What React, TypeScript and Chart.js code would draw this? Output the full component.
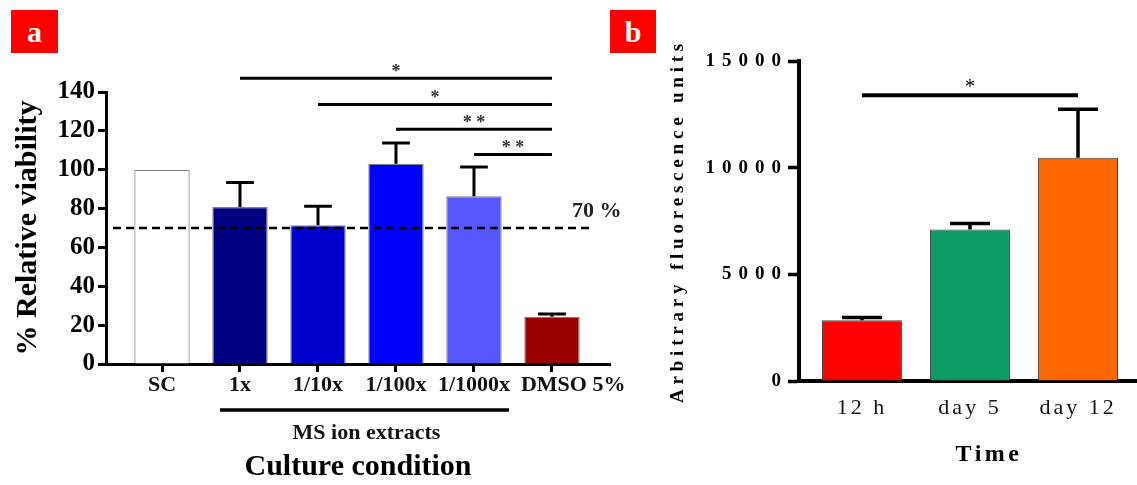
import React, { useEffect, useRef } from 'react';
import { Chart, registerables } from 'chart.js';

Chart.register(...registerables);

const FONT = '"Liberation Serif", "Times New Roman", serif';

// ---------- Panel a data ----------
const CONDITIONS = ['SC', '1x', '1/10x', '1/100x', '1/1000x', 'DMSO 5%'];
const VIABILITY = [100, 80.8, 71.4, 103.1, 86.3, 24.3];
const VIABILITY_SEM = [0, 12.6, 9.8, 10.6, 15.1, 1.4];
const VIABILITY_COLORS = ['#FFFFFF', '#000080', '#0000CC', '#0000FF', '#5757FF', '#9B0000'];
const VIABILITY_MAX = 140;
const VIABILITY_STEP = 20;
const THRESHOLD = 70;
const THRESHOLD_LABEL = '70 %';
const MS_GROUP = [1, 4];
const MS_GROUP_LABEL = 'MS ion extracts';
const SIG_A = [
  { from: 1, to: 5, value: 147.1, label: '*' },
  { from: 2, to: 5, value: 133.6, label: '*' },
  { from: 3, to: 5, value: 120.8, label: '* *' },
  { from: 4, to: 5, value: 107.8, label: '* *' },
];

// ---------- Panel b data ----------
const TIMES = ['12 h', 'day 5', 'day 12'];
const FLUORESCENCE = [2850, 7100, 10470];
const FLUORESCENCE_SEM = [125, 280, 2265];
const FLUORESCENCE_COLORS = ['#FF0000', '#0C9A64', '#FF6600'];
const FLUORESCENCE_MAX = 15000;
const FLUORESCENCE_STEP = 5000;
const SIG_B = [{ from: 0, to: 2, value: 13390, label: '*' }];

function wrapSpacing(scale: any, method: string, spacing: string) {
  const orig = scale[method];
  scale[method] = function (...args: any[]) {
    const ctx = this.ctx;
    ctx.save();
    ctx.letterSpacing = spacing;
    const r = orig.apply(this, args);
    ctx.restore();
    return r;
  };
}

function drawErrorBars(chart: any, values: number[], errs: number[], lw: number) {
  const { ctx } = chart;
  const y = chart.scales.y;
  const meta = chart.getDatasetMeta(0);
  ctx.save();
  ctx.strokeStyle = '#000';
  ctx.lineWidth = lw;
  meta.data.forEach((bar: any, i: number) => {
    if (!errs[i]) return;
    const top = y.getPixelForValue(values[i] + errs[i]);
    const half = bar.width / 4;
    ctx.beginPath();
    ctx.moveTo(bar.x, bar.y);
    ctx.lineTo(bar.x, top);
    ctx.moveTo(bar.x - half, top);
    ctx.lineTo(bar.x + half, top);
    ctx.stroke();
  });
  ctx.restore();
}

function drawSig(chart: any, sigs: any[], lw: number, font: string, color: string, lift: number) {
  const { ctx } = chart;
  const { x, y } = chart.scales;
  ctx.save();
  sigs.forEach((s) => {
    const x1 = x.getPixelForValue(s.from);
    const x2 = x.getPixelForValue(s.to);
    const yy = y.getPixelForValue(s.value);
    ctx.strokeStyle = '#000';
    ctx.lineWidth = lw;
    ctx.beginPath();
    ctx.moveTo(x1, yy);
    ctx.lineTo(x2, yy);
    ctx.stroke();
    ctx.font = font;
    ctx.fillStyle = color;
    ctx.textAlign = 'center';
    ctx.textBaseline = 'alphabetic';
    ctx.fillText(s.label, (x1 + x2) / 2, yy - lift);
  });
  ctx.restore();
}

const annotA = {
  id: 'annotA',
  afterDatasetsDraw(chart: any) {
    const { ctx, chartArea } = chart;
    const { x, y } = chart.scales;
    const ty = y.getPixelForValue(THRESHOLD);
    ctx.save();
    ctx.setLineDash([8, 5]);
    ctx.lineWidth = 2.5;
    ctx.strokeStyle = '#000';
    ctx.beginPath();
    ctx.moveTo(chartArea.left + 7, ty);
    ctx.lineTo(chartArea.right - 18, ty);
    ctx.stroke();
    ctx.restore();
    drawErrorBars(chart, VIABILITY, VIABILITY_SEM, 3);
    drawSig(chart, SIG_A, 3, `bold 18px ${FONT}`, '#333', 1.5);
    ctx.save();
    ctx.font = `bold 22px ${FONT}`;
    ctx.fillStyle = '#222';
    ctx.textAlign = 'left';
    ctx.textBaseline = 'middle';
    ctx.fillText(THRESHOLD_LABEL, x.getPixelForValue(CONDITIONS.length - 1) + 20, ty - 17);
    ctx.restore();
  },
  afterDraw(chart: any) {
    const { ctx } = chart;
    const { x } = chart.scales;
    ctx.save();
    ctx.fillStyle = '#111';
    ctx.font = `bold 22px ${FONT}`;
    ctx.textBaseline = 'middle';
    CONDITIONS.forEach((c, i) => {
      const px = x.getPixelForValue(i);
      const last = i === CONDITIONS.length - 1;
      ctx.textAlign = last ? 'left' : 'center';
      ctx.fillText(c, last ? px - 31 : px, x.top + 21);
    });
    const x1 = x.getPixelForValue(MS_GROUP[0]) - 20;
    const x2 = x.getPixelForValue(MS_GROUP[1]) + 35;
    ctx.strokeStyle = '#000';
    ctx.lineWidth = 3.5;
    ctx.beginPath();
    ctx.moveTo(x1, x.top + 46);
    ctx.lineTo(x2, x.top + 46);
    ctx.stroke();
    ctx.textAlign = 'center';
    ctx.fillText(MS_GROUP_LABEL, (x1 + x2) / 2 + 2, x.top + 69);
    ctx.restore();
  },
};

const annotB = {
  id: 'annotB',
  beforeDraw(chart: any) {
    const { x, y } = chart.scales;
    if (x && !x.__wrapped) {
      x.__wrapped = true;
      wrapSpacing(x, 'drawLabels', '3px');
    }
    if (y && !y.__wrapped) {
      y.__wrapped = true;
      wrapSpacing(y, 'drawLabels', '7px');
      wrapSpacing(y, 'drawTitle', '4.8px');
    }
  },
  afterDatasetsDraw(chart: any) {
    drawErrorBars(chart, FLUORESCENCE, FLUORESCENCE_SEM, 3.5);
    drawSig(chart, SIG_B, 4, `20px ${FONT}`, '#000', 2);
  },
  afterDraw(chart: any) {
    const { ctx, chartArea } = chart;
    ctx.save();
    ctx.letterSpacing = '3.5px';
    ctx.font = `bold 24px ${FONT}`;
    ctx.fillStyle = '#000';
    ctx.textAlign = 'center';
    ctx.textBaseline = 'middle';
    ctx.fillText('Time', chartArea.left + 190, 455);
    ctx.restore();
  },
};

const intTicks = (s: any) => {
  s.ticks = s.ticks.filter((t: any) => Number.isInteger(t.value));
};

export default function App() {
  const refA = useRef<HTMLCanvasElement>(null);
  const refB = useRef<HTMLCanvasElement>(null);

  useEffect(() => {
    const chartA = new Chart(refA.current as HTMLCanvasElement, {
      type: 'bar',
      data: {
        datasets: [
          {
            data: CONDITIONS.map((_, i) => ({ x: i, y: VIABILITY[i] })),
            backgroundColor: VIABILITY_COLORS,
            borderColor: '#808080',
            borderWidth: 1.2,
            categoryPercentage: 1,
            barPercentage: 0.71,
          },
        ],
      },
      options: {
        responsive: false,
        animation: false,
        events: [],
        layout: { padding: { left: 0, top: 92, right: 527, bottom: 0 } },
        plugins: { legend: { display: false }, tooltip: { enabled: false } },
        scales: {
          x: {
            type: 'linear',
            min: -0.718,
            max: 5.744,
            offset: false,
            afterFit: (s: any) => {
              s.height = 121;
            },
            afterBuildTicks: intTicks,
            ticks: { display: false, stepSize: 1, includeBounds: false },
            grid: {
              offset: false,
              drawOnChartArea: false,
              drawTicks: true,
              tickLength: 8,
              tickWidth: 3,
              tickColor: '#000',
              color: '#000',
            },
            border: { color: '#000', width: 3 },
            title: {
              display: true,
              text: 'Culture condition',
              font: { family: FONT, size: 30, weight: 'bold' },
              color: '#000',
              padding: { top: 0, bottom: 0 },
            },
          },
          y: {
            min: 0,
            max: VIABILITY_MAX,
            afterFit: (s: any) => {
              s.width = 106;
            },
            ticks: {
              stepSize: VIABILITY_STEP,
              font: { family: FONT, size: 25, weight: 'bold' },
              color: '#000',
              padding: 3,
            },
            grid: { drawOnChartArea: false, tickLength: 8, tickWidth: 3, tickColor: '#000', color: '#000' },
            border: { color: '#000', width: 3 },
            title: {
              display: true,
              text: '% Relative viability',
              font: { family: FONT, size: 30, weight: 'bold' },
              color: '#000',
              padding: { top: 10, bottom: 0 },
            },
          },
        },
      } as any,
      plugins: [annotA],
    });

    const chartB = new Chart(refB.current as HTMLCanvasElement, {
      type: 'bar',
      data: {
        datasets: [
          {
            data: TIMES.map((_, i) => ({ x: i, y: FLUORESCENCE[i] })),
            backgroundColor: FLUORESCENCE_COLORS,
            borderColor: '#444',
            borderWidth: 1,
            categoryPercentage: 1,
            barPercentage: 0.74,
          },
        ],
      },
      options: {
        responsive: false,
        animation: false,
        events: [],
        layout: { padding: { left: 650, top: 61, right: 0, bottom: 0 } },
        plugins: { legend: { display: false }, tooltip: { enabled: false } },
        scales: {
          x: {
            type: 'linear',
            min: -0.583,
            max: 2.546,
            offset: false,
            afterFit: (s: any) => {
              s.height = 104;
            },
            afterBuildTicks: intTicks,
            ticks: {
              stepSize: 1,
              includeBounds: false,
              autoSkip: false,
              maxRotation: 0,
              callback: (v: any) => TIMES[v] ?? '',
              font: { family: FONT, size: 22 },
              color: '#111',
              padding: 14,
            },
            grid: { offset: false, drawOnChartArea: false, drawTicks: false },
            border: { color: '#000', width: 4 },
          },
          y: {
            min: 0,
            max: FLUORESCENCE_MAX,
            afterFit: (s: any) => {
              s.width = 149;
            },
            ticks: {
              stepSize: FLUORESCENCE_STEP,
              callback: (v: any) => String(v),
              font: { family: FONT, size: 19, weight: 'bold' },
              color: '#000',
              padding: 0,
            },
            grid: { drawOnChartArea: false, tickLength: 11, tickWidth: 3.5, tickColor: '#000', color: '#000' },
            border: { color: '#000', width: 4 },
            title: {
              display: true,
              text: 'Arbitrary fluorescence units',
              font: { family: FONT, size: 19, weight: 'bold' },
              color: '#000',
              padding: { top: 16.6, bottom: 0 },
            },
          },
        },
      } as any,
      plugins: [annotB],
    });

    return () => {
      chartA.destroy();
      chartB.destroy();
    };
  }, []);

  const boxStyle = (left: number, width: number): React.CSSProperties => ({
    position: 'absolute',
    left,
    top: 10,
    width,
    height: 43,
    background: '#FF0000',
    color: '#FFFFFF',
    font: `bold 30px ${FONT}`,
    display: 'flex',
    alignItems: 'center',
    justifyContent: 'center',
    lineHeight: 1,
  });

  return (
    <div style={{ position: 'fixed', left: 0, top: 0, width: 1137, height: 485, background: '#fff', overflow: 'hidden' }}>
      <canvas ref={refA} width={1137} height={485} style={{ position: 'absolute', left: 0, top: 0, width: 1137, height: 485 }} />
      <canvas ref={refB} width={1137} height={485} style={{ position: 'absolute', left: 0, top: 0, width: 1137, height: 485 }} />
      <div style={boxStyle(11, 47)}>a</div>
      <div style={boxStyle(610, 46)}>b</div>
    </div>
  );
}
